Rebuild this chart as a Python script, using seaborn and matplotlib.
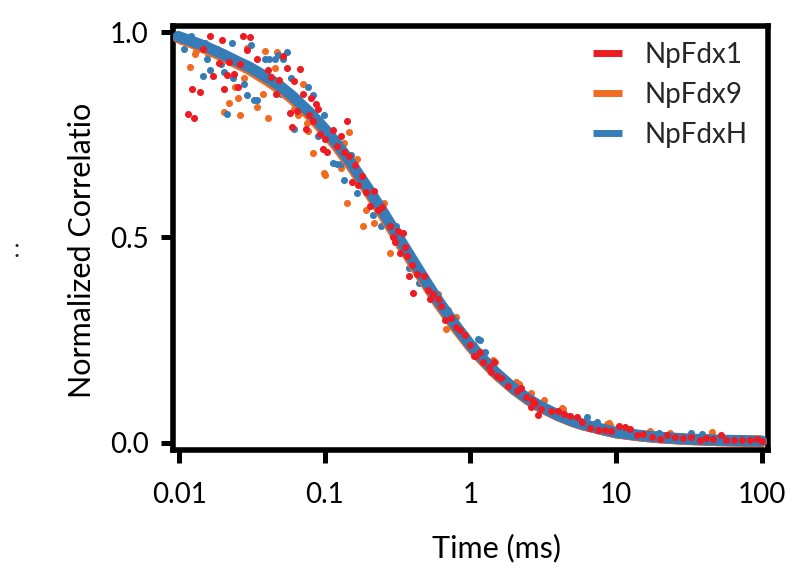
import matplotlib
matplotlib.use('Agg')
import matplotlib.pyplot as plt
from matplotlib.lines import Line2D
import pandas as pd
import seaborn as sns

# (time in ms, normalized correlation)
t_np1 = [0.0115, 0.0122, 0.0126, 0.0139, 0.0146, 0.0161, 0.0169, 0.0186, 0.0196, 0.0201,
         0.0211, 0.0220, 0.0237, 0.0252, 0.0260, 0.0275, 0.0290, 0.0307, 0.0342, 0.0407,
         0.0423, 0.0462, 0.0486, 0.0511, 0.0549, 0.0577, 0.0598, 0.0612, 0.0647, 0.0675,
         0.0704, 0.0737, 0.0776, 0.0799, 0.0830, 0.0865, 0.0900, 0.0930, 0.0964, 0.100,
         0.103, 0.114, 0.121, 0.128, 0.135, 0.142, 0.146, 0.153, 0.160, 0.168,
         0.179, 0.191, 0.204, 0.218, 0.232, 0.248, 0.280, 0.295, 0.304, 0.317,
         0.330, 0.345, 0.355, 0.365, 0.380, 0.398, 0.405, 0.430, 0.480, 0.510,
         0.530, 0.550, 0.600, 0.630, 0.670, 0.740, 0.790, 0.850, 0.910, 1.00,
         1.06, 1.09, 1.16, 1.22, 1.34, 1.39, 1.44, 1.52, 1.61, 1.81,
         2.10, 2.24, 2.42, 2.61, 2.65, 2.77, 2.92, 3.07, 3.58, 3.97,
         4.39, 4.86, 5.38, 5.84, 6.64, 7.55, 8.37, 9.30, 10.5, 11.5,
         12.4, 13.9, 15.4, 17.7, 20.2, 22.4, 25.5, 29.0, 33.0, 37.5,
         41.6, 46.1, 52.5, 56.7, 64.5, 73.4, 83.5, 92.6, 100.0]
g_np1 = [0.801, 0.861, 0.791, 0.854, 0.960, 0.991, 0.894, 0.925, 0.981, 0.863,
         0.896, 0.928, 0.898, 0.867, 0.922, 0.991, 0.956, 0.989, 0.934, 0.909,
         0.891, 0.849, 0.883, 0.942, 0.912, 0.804, 0.770, 0.882, 0.809, 0.910,
         0.849, 0.765, 0.799, 0.841, 0.785, 0.825, 0.812, 0.752, 0.715, 0.740,
         0.709, 0.762, 0.723, 0.748, 0.709, 0.784, 0.699, 0.636, 0.677, 0.629,
         0.650, 0.610, 0.576, 0.614, 0.568, 0.574, 0.529, 0.502, 0.489, 0.515,
         0.461, 0.510, 0.476, 0.455, 0.405, 0.434, 0.364, 0.412, 0.405, 0.373,
         0.350, 0.362, 0.350, 0.332, 0.299, 0.304, 0.281, 0.274, 0.262, 0.238,
         0.212, 0.212, 0.222, 0.196, 0.184, 0.173, 0.196, 0.163, 0.157, 0.138,
         0.127, 0.133, 0.111, 0.087, 0.103, 0.097, 0.068, 0.083, 0.078, 0.076,
         0.070, 0.065, 0.062, 0.050, 0.036, 0.032, 0.030, 0.028, 0.040, 0.038,
         0.034, 0.018, 0.022, 0.014, 0.010, 0.018, 0.014, 0.011, 0.014, 0.006,
         0.011, 0.008, 0.018, 0.006, 0.006, 0.007, 0.006, 0.008, 0.005]

t_np9 = [0.0102, 0.0115, 0.0119, 0.0127, 0.0130, 0.0156, 0.0203, 0.0220, 0.0242, 0.0252,
         0.0260, 0.0278, 0.0293, 0.0309, 0.0341, 0.0374, 0.0390, 0.0405, 0.0453, 0.0469,
         0.0512, 0.0577, 0.0609, 0.0651, 0.0704, 0.0757, 0.0765, 0.0832, 0.098, 0.0996,
         0.128, 0.135, 0.142, 0.146, 0.166, 0.184, 0.190, 0.216, 0.256, 0.280,
         0.387, 0.60, 0.68, 0.70, 0.80, 0.97, 1.06, 1.43, 1.47, 2.07,
         2.15, 2.61, 3.20, 4.28, 4.35, 8.7, 8.9, 9.1, 17.0, 23.4,
         46.0, 91.0]
g_np9 = [0.978, 0.978, 0.916, 0.946, 0.954, 0.948, 0.805, 0.827, 0.866, 0.841,
         0.799, 0.889, 0.962, 0.912, 0.817, 0.849, 0.954, 0.791, 0.912, 0.951,
         0.851, 0.837, 0.813, 0.799, 0.873, 0.778, 0.760, 0.706, 0.657, 0.653,
         0.669, 0.731, 0.584, 0.757, 0.691, 0.527, 0.568, 0.536, 0.584, 0.461,
         0.463, 0.362, 0.278, 0.324, 0.305, 0.236, 0.238, 0.202, 0.196, 0.147,
         0.143, 0.121, 0.103, 0.084, 0.083, 0.046, 0.048, 0.044, 0.028, 0.024,
         0.026, 0.010]

t_nph = [0.0107, 0.012, 0.0146, 0.015, 0.0154, 0.0162, 0.018, 0.0193, 0.0203, 0.0211,
         0.0229, 0.0234, 0.0244, 0.0278, 0.0290, 0.0310, 0.0325, 0.0342, 0.0390, 0.0411,
         0.0457, 0.0476, 0.0501, 0.0514, 0.0547, 0.0581, 0.0609, 0.0770, 0.0832, 0.0900,
         0.092, 0.098, 0.114, 0.121, 0.128, 0.135, 0.15, 0.166, 0.2, 0.213,
         0.242, 0.26, 0.307, 0.324, 0.35, 0.380, 0.440, 0.5, 0.6, 0.8,
         1.13, 1.16, 1.25, 1.5, 1.90, 2.2, 3.2, 4.2, 5.5, 6.3,
         7.4, 8.5, 12.0, 15.0, 19.7, 25.0, 33.0, 39.0, 45.0, 60.0,
         80.0, 95.0]
g_nph = [0.960, 0.990, 0.894, 0.975, 0.936, 0.909, 0.960, 0.923, 0.904, 0.801,
         0.975, 0.889, 0.922, 0.875, 0.847, 0.970, 0.835, 0.835, 0.934, 0.934,
         0.934, 0.944, 0.849, 0.936, 0.952, 0.888, 0.764, 0.867, 0.847, 0.748,
         0.750, 0.799, 0.681, 0.680, 0.680, 0.639, 0.700, 0.608, 0.620, 0.556,
         0.529, 0.560, 0.529, 0.479, 0.480, 0.426, 0.390, 0.390, 0.345, 0.285,
         0.252, 0.250, 0.222, 0.168, 0.143, 0.118, 0.085, 0.068, 0.054, 0.062,
         0.050, 0.033, 0.024, 0.020, 0.024, 0.013, 0.024, 0.022, 0.008, 0.007,
         0.006, 0.005]

# fitted curves
t_fit = [0.0098, 0.012, 0.015, 0.02, 0.025, 0.03, 0.04, 0.05, 0.06, 0.08,
         0.1, 0.12, 0.15, 0.2, 0.25, 0.3, 0.4, 0.5, 0.6, 0.8,
         1.0, 1.2, 1.5, 2.0, 2.5, 3.0, 4.0, 5.0, 6.0, 8.0,
         10, 15, 20, 30, 50, 70, 100]
fit_np1 = [0.988, 0.977, 0.963, 0.943, 0.926, 0.913, 0.886, 0.863, 0.840, 0.798,
           0.760, 0.726, 0.679, 0.613, 0.559, 0.513, 0.441, 0.387, 0.343, 0.280,
           0.236, 0.204, 0.168, 0.130, 0.105, 0.088, 0.066, 0.052, 0.043, 0.032,
           0.024, 0.016, 0.012, 0.008, 0.005, 0.004, 0.003]
fit_np9 = [0.987, 0.975, 0.961, 0.941, 0.924, 0.910, 0.883, 0.860, 0.837, 0.795,
           0.757, 0.723, 0.676, 0.610, 0.556, 0.510, 0.438, 0.384, 0.340, 0.278,
           0.234, 0.202, 0.167, 0.129, 0.104, 0.087, 0.066, 0.052, 0.043, 0.032,
           0.024, 0.016, 0.012, 0.008, 0.005, 0.004, 0.003]
fit_nph = [0.990, 0.979, 0.966, 0.946, 0.929, 0.916, 0.890, 0.867, 0.844, 0.802,
           0.764, 0.730, 0.683, 0.617, 0.563, 0.517, 0.445, 0.390, 0.346, 0.283,
           0.238, 0.206, 0.170, 0.131, 0.106, 0.089, 0.067, 0.053, 0.044, 0.033,
           0.025, 0.017, 0.013, 0.009, 0.006, 0.005, 0.004]

labels = ['NpFdx1', 'NpFdx9', 'NpFdxH']
colors = ['#ED1C24', '#F36A21', '#367DB7']

sns.set_theme(style='ticks')
plt.rcParams['font.family'] = ['Lato', 'DejaVu Sans']

fig = plt.figure(figsize=(7.86, 5.69), dpi=100)
ax = fig.add_axes([0.2207, 0.2091, 0.7564, 0.7456])

df_fit = pd.DataFrame({'t': t_fit, 'np1': fit_np1, 'np9': fit_np9, 'nph': fit_nph})

# orange and blue points sit under the fitted band, red on top
sns.scatterplot(x=t_np9, y=g_np9, color=colors[1], s=26, linewidth=0, ax=ax, zorder=2)
sns.scatterplot(x=t_nph, y=g_nph, color=colors[2], s=26, linewidth=0, ax=ax, zorder=2)
for col, c in zip(['np1', 'np9', 'nph'], colors):
    sns.lineplot(data=df_fit, x='t', y=col, color=c, linewidth=8, ax=ax, zorder=3)
sns.scatterplot(x=t_np1, y=g_np1, color=colors[0], s=26, linewidth=0, ax=ax, zorder=4)

ax.set_xscale('log')
ax.set_xlim(0.0091, 110.8)
ax.set_ylim(-0.018, 1.016)
ax.set_xticks([0.01, 0.1, 1, 10, 100])
ax.set_xticklabels(['0.01', '0.1', '1', '10', '100'])
ax.set_yticks([0.0, 0.5, 1.0])
ax.set_yticklabels(['0.0', '0.5', '1.0'])
ax.minorticks_off()

for side in ['left', 'right', 'top', 'bottom']:
    ax.spines[side].set_visible(True)
    ax.spines[side].set_linewidth(4)
    ax.spines[side].set_color('black')
ax.tick_params(axis='both', direction='out', length=9, width=3.6, color='black',
               labelsize=20, labelcolor='black', pad=9)
ax.tick_params(axis='x', pad=14)

ax.set_xlabel('Time (ms)', fontsize=22, color='black')
ax.xaxis.label.set_va('center')
ax.xaxis.set_label_coords(0.544, -0.231)
ax.set_ylabel('Normalized Correlatio', fontsize=22, color='black')
ax.yaxis.label.set_va('center')
ax.yaxis.set_label_coords(-0.154, 0.471)

fig.text(17 / 786, 1 - 249 / 569, ':', fontsize=18, ha='center', va='center')

handles = [Line2D([0], [0], color=c, lw=5, solid_capstyle='butt') for c in colors]
ax.legend(handles, labels, loc='upper left', bbox_to_anchor=(593 / 786, 1 - 42 / 569),
          bbox_transform=fig.transFigure, frameon=False, fontsize=20,
          handlelength=1.05, handletextpad=0.8, labelspacing=0.5,
          borderpad=0, borderaxespad=0)

fig.savefig('out.png', dpi=100)
